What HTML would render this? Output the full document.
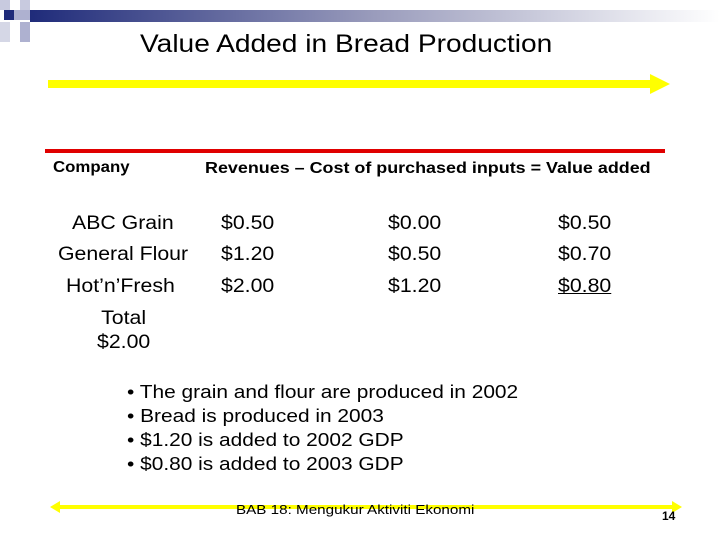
<!DOCTYPE html>
<html><head><meta charset="utf-8"><style>
body{margin:0;width:720px;height:540px;background:#fff;position:relative;overflow:hidden;font-family:"Liberation Sans",Arial,sans-serif;}
.a{position:absolute;white-space:nowrap;color:#000;transform-origin:0 0;}
.r{font-size:19px;transform:scaleX(1.12);}
</style></head><body>
<svg width="720" height="540" style="position:absolute;left:0;top:0">
<defs><linearGradient id="g" x1="0" x2="1"><stop offset="0" stop-color="#1f2b7a"/><stop offset="0.5" stop-color="#9a9cbc"/><stop offset="1" stop-color="#ffffff"/></linearGradient></defs>
<rect x="30" y="10" width="690" height="12" fill="url(#g)"/>
<rect x="0" y="0" width="10" height="10" fill="#c8cadf"/>
<rect x="20" y="0" width="10" height="10" fill="#c8cadf"/>
<rect x="4" y="10" width="10" height="10" fill="#1f2b7a"/>
<rect x="14" y="10" width="16" height="10" fill="#aeb1d0"/>
<rect x="0" y="22" width="10" height="20" fill="#d5d7e6"/>
<rect x="20" y="22" width="10" height="20" fill="#aeb1d0"/>
<rect x="48" y="80" width="605" height="8" fill="#ffff00"/>
<polygon points="650,74 670,84 650,94" fill="#ffff00"/>
<rect x="45" y="149" width="620" height="4" fill="#e00000"/>
<rect x="55" y="505" width="620" height="4" fill="#ffff00"/>
<polygon points="50,507 60,501 60,513" fill="#ffff00"/>
<polygon points="682,507 672,501 672,513" fill="#ffff00"/>
</svg>
<div class="a" style="left:140px;top:30px;font-size:25px;transform:scaleX(1.125)">Value Added in Bread Production</div>
<div class="a" style="left:53px;top:159px;font-size:16px;font-weight:bold;transform:scaleX(1.05)">Company</div>
<div class="a" style="left:205px;top:160px;font-size:16px;font-weight:bold;transform:scaleX(1.12)">Revenues – Cost of purchased inputs = Value added</div>
<div class="a r" style="left:72px;top:213px">ABC Grain</div>
<div class="a r" style="left:58px;top:244px">General Flour</div>
<div class="a r" style="left:66px;top:276px">Hot’n’Fresh</div>
<div class="a r" style="left:97px;top:307px;text-align:center;line-height:24px">Total<br>$2.00</div>
<div class="a r" style="left:221px;top:213px">$0.50</div>
<div class="a r" style="left:388px;top:213px">$0.00</div>
<div class="a r" style="left:558px;top:213px">$0.50</div>
<div class="a r" style="left:221px;top:244px">$1.20</div>
<div class="a r" style="left:388px;top:244px">$0.50</div>
<div class="a r" style="left:558px;top:244px">$0.70</div>
<div class="a r" style="left:221px;top:276px">$2.00</div>
<div class="a r" style="left:388px;top:276px">$1.20</div>
<div class="a r" style="left:558px;top:276px;text-decoration:underline">$0.80</div>
<div class="a" style="left:127px;top:380px;font-size:18px;line-height:24px;transform:scaleX(1.16)">• The grain and flour are produced in 2002<br>• Bread is produced in 2003<br>• $1.20 is added to 2002 GDP<br>• $0.80 is added to 2003 GDP</div>
<div class="a" style="left:236px;top:502px;font-size:13px;transform:scaleX(1.17)">BAB 18: Mengukur Aktiviti Ekonomi</div>
<div class="a" style="left:662px;top:509px;font-size:12px;font-weight:bold">14</div>
</body></html>
